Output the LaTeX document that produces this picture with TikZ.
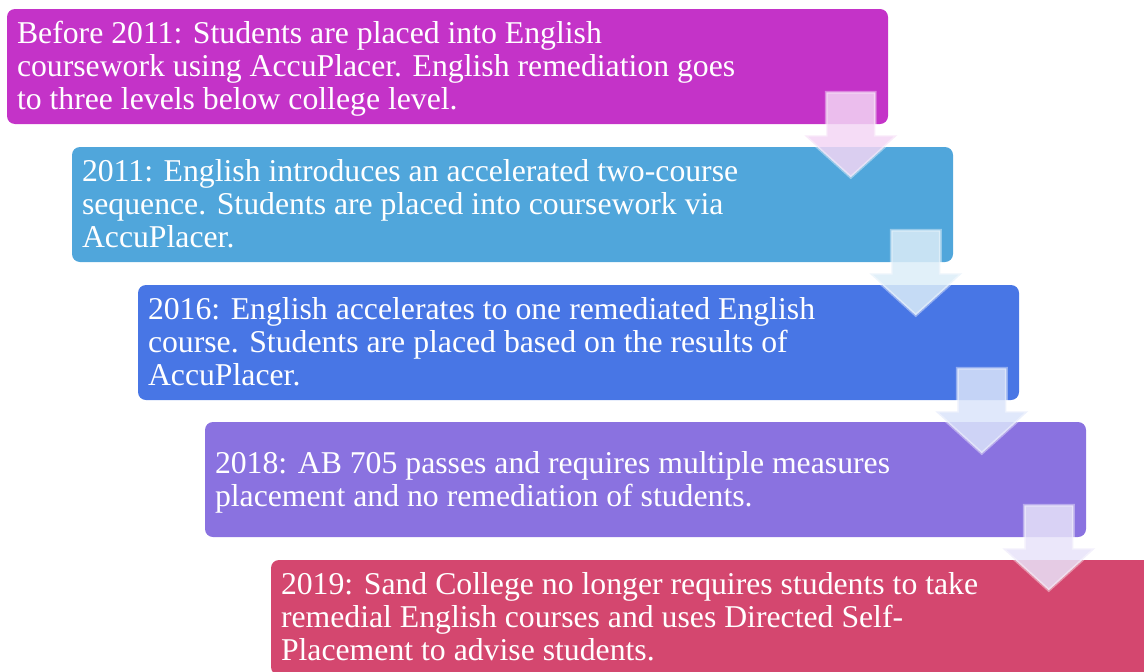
\documentclass[tikz,border=0pt]{standalone}
\usepackage{fontspec}
\setmainfont{Liberation Serif}
\usepackage{tikz}
\usetikzlibrary{positioning,calc}
\usepackage{xcolor}
\definecolor{stmagenta}{RGB}{196,51,200}
\definecolor{stsky}{RGB}{80,166,219}
\definecolor{stblue}{RGB}{72,118,229}
\definecolor{stviolet}{RGB}{138,114,224}
\definecolor{strose}{RGB}{212,71,111}
\tikzset{
  stage/.style={rectangle,rounded corners=6pt,draw=none,
    minimum width=660.75pt,minimum height=86.25pt,inner sep=0pt},
  stagetxt/.style={anchor=north west,align=left,inner sep=0pt,text=white,
    font=\fontsize{23.8}{24.75}\selectfont},
  downarrow/.style={draw=white,draw opacity=0.4,line width=2.2pt,
    fill opacity=0.85,line join=miter},
}

\begin{document}
\begin{tikzpicture}[x=0.75pt,y=-0.75pt]
  \clip (0,0) rectangle (1144,671);
  % timeline boxes
  \node[stage,fill=stmagenta] (stbefore) at (447.5,66.5) {};
  \node[stage,fill=stsky] (st2011) at (512.5,204.5) {};
  \node[stage,fill=stblue] (st2016) at (578.5,342.5) {};
  \node[stage,fill=stviolet] (st2018) at (645.5,479.5) {};
  \node[stage,fill=strose] (st2019) at (711.5,617.5) {};
  % texts
  \node[stagetxt] (stbefore-txt) at ($(stbefore.north west)+(10,12.5)$)
    {Before 2011: Students are placed into English\\coursework using AccuPlacer. English remediation goes\\to three levels below college level.};
  \node[stagetxt] (st2011-txt) at ($(st2011.north west)+(10,12.5)$)
    {2011: English introduces an accelerated two-course\\sequence. Students are placed into coursework via\\AccuPlacer.};
  \node[stagetxt] (st2016-txt) at ($(st2016.north west)+(10,12.5)$)
    {2016: English accelerates to one remediated English\\course. Students are placed based on the results of\\AccuPlacer.};
  \node[stagetxt] (st2018-txt) at ($(st2018.north west)+(10,29.5)$)
    {2018: AB 705 passes and requires multiple measures\\placement and no remediation of students.};
  \node[stagetxt] (st2019-txt) at ($(st2019.north west)+(10,12.5)$)
    {2019: Sand College no longer requires students to take\\remedial English courses and uses Directed Self-\\Placement to advise students.};
  % arrows between the stages
  \begin{scope}[shift={(stbefore.south east)}]
    \draw[downarrow,fill=stmagenta!20!white] (-62,-32) -- (-13,-32) -- (-13,11) -- (9,11)
      -- (-37.5,53) -- (-84,11) -- (-62,11) -- cycle;
  \end{scope}
  \begin{scope}[shift={(st2011.south east)}]
    \draw[downarrow,fill=stsky!20!white] (-62,-32) -- (-13,-32) -- (-13,11) -- (9,11)
      -- (-37.5,53) -- (-84,11) -- (-62,11) -- cycle;
  \end{scope}
  \begin{scope}[shift={(st2016.south east)}]
    \draw[downarrow,fill=stblue!20!white] (-62,-32) -- (-13,-32) -- (-13,11) -- (9,11)
      -- (-37.5,53) -- (-84,11) -- (-62,11) -- cycle;
  \end{scope}
  \begin{scope}[shift={(st2018.south east)}]
    \draw[downarrow,fill=stviolet!20!white] (-62,-32) -- (-13,-32) -- (-13,11) -- (9,11)
      -- (-37.5,53) -- (-84,11) -- (-62,11) -- cycle;
  \end{scope}
\end{tikzpicture}
\end{document}
